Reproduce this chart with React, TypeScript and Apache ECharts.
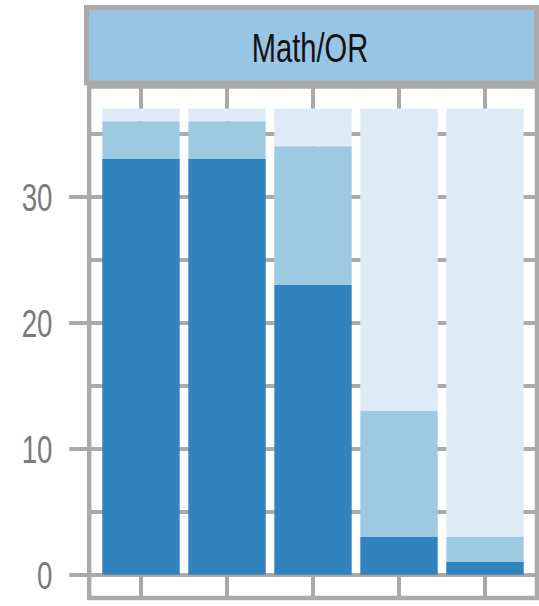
import React, { useEffect, useRef } from "react";
import * as echarts from "echarts";

// ---- data ----
const panelTitle = "Math/OR";
const categories = ["1", "2", "3", "4", "5"];
const darkValues = [33, 33, 23, 3, 1];
const midValues = [3, 3, 11, 10, 2];
const lightValues = [1, 1, 3, 24, 34];
const yLabelTicks = [0, 10, 20, 30];
const yGridTicks = [0, 5, 10, 15, 20, 25, 30, 35];
const seriesNames = ["dark", "mid", "light"];

const GRAY = "#aaaaaa";
const FONT = "'Liberation Sans', Arial, sans-serif";
const Y_MIN = -1.85;
const Y_MAX = 38.75;

export default function App() {
  const ref = useRef<HTMLDivElement>(null);
  useEffect(() => {
    document.body.style.margin = "0";
    const chart = echarts.init(ref.current!, null, { renderer: "svg" });
    const colors = ["#3182bd", "#9ecae1", "#deebf7"];
    const all = [darkValues, midValues, lightValues];
    chart.setOption({
      animation: false,
      backgroundColor: "#ffffff",
      grid: [
        {
          left: 89.2,
          top: 86.5,
          width: 447.8,
          height: 511.5,
          show: true,
          backgroundColor: "#ffffff",
          borderColor: GRAY,
          borderWidth: 4.5,
        },
        {
          left: 141,
          top: 86.5,
          width: 344,
          height: 511.5,
          show: false,
        },
      ],
      xAxis: [
        {
          gridIndex: 0,
          type: "value",
          min: 0,
          max: 1,
          show: false,
        },
        {
          gridIndex: 1,
          type: "category",
          data: categories,
          boundaryGap: false,
          axisLine: { show: false },
          axisTick: { show: false, interval: 0 },
          axisLabel: { show: false, interval: 0 },
          splitLine: { show: true, interval: 0, lineStyle: { color: GRAY, width: 4 } },
        },
      ],
      yAxis: [
        {
          gridIndex: 0,
          type: "value",
          min: Y_MIN,
          max: Y_MAX,
          axisLine: { show: false },
          axisTick: { show: false, customValues: yGridTicks },
          axisLabel: { show: false },
          splitLine: { show: true, lineStyle: { color: GRAY, width: 4 } },
        },
        {
          gridIndex: 0,
          type: "value",
          position: "left",
          min: Y_MIN,
          max: Y_MAX,
          axisLine: { show: false },
          axisTick: {
            show: true,
            customValues: yLabelTicks,
            length: 20,
            lineStyle: { color: GRAY, width: 4 },
          },
          axisLabel: { show: false },
          splitLine: { show: false },
        },
        {
          gridIndex: 1,
          type: "value",
          min: Y_MIN,
          max: Y_MAX,
          show: false,
          splitLine: { show: false },
        },
      ],
      series: all.map((vals, k) => ({
        name: seriesNames[k],
        type: "bar",
        stack: "total",
        xAxisIndex: 1,
        yAxisIndex: 2,
        barWidth: "90%",
        clip: false,
        itemStyle: { color: colors[k] },
        data: vals,
        z: 3,
      })),
    });

    // y tick labels placed through the y scale, condensed horizontally
    const labelGraphics = yLabelTicks.map((v) => {
      const py = chart.convertToPixel({ yAxisIndex: 0 }, v) as number;
      return {
        type: "text",
        x: 52.5,
        y: py + 0.7,
        scaleX: 0.71,
        style: {
          text: String(v),
          fill: "#7a7a7a",
          font: `39px ${FONT}`,
          align: "right",
          verticalAlign: "middle",
        },
        z: 11,
      };
    });

    chart.setOption({
      graphic: [
        {
          type: "rect",
          shape: { x: 86.5, y: 7.5, width: 450, height: 75.5 },
          style: { fill: "#99c5e4", stroke: GRAY, lineWidth: 5 },
          z: 10,
        },
        {
          type: "text",
          x: 310,
          y: 47.7,
          scaleX: 0.71,
          style: {
            text: panelTitle,
            fill: "#111111",
            font: `41px ${FONT}`,
            align: "center",
            verticalAlign: "middle",
          },
          z: 11,
        },
        ...labelGraphics,
      ],
    });
    return () => chart.dispose();
  }, []);
  return <div ref={ref} style={{ width: 539, height: 606 }} />;
}
